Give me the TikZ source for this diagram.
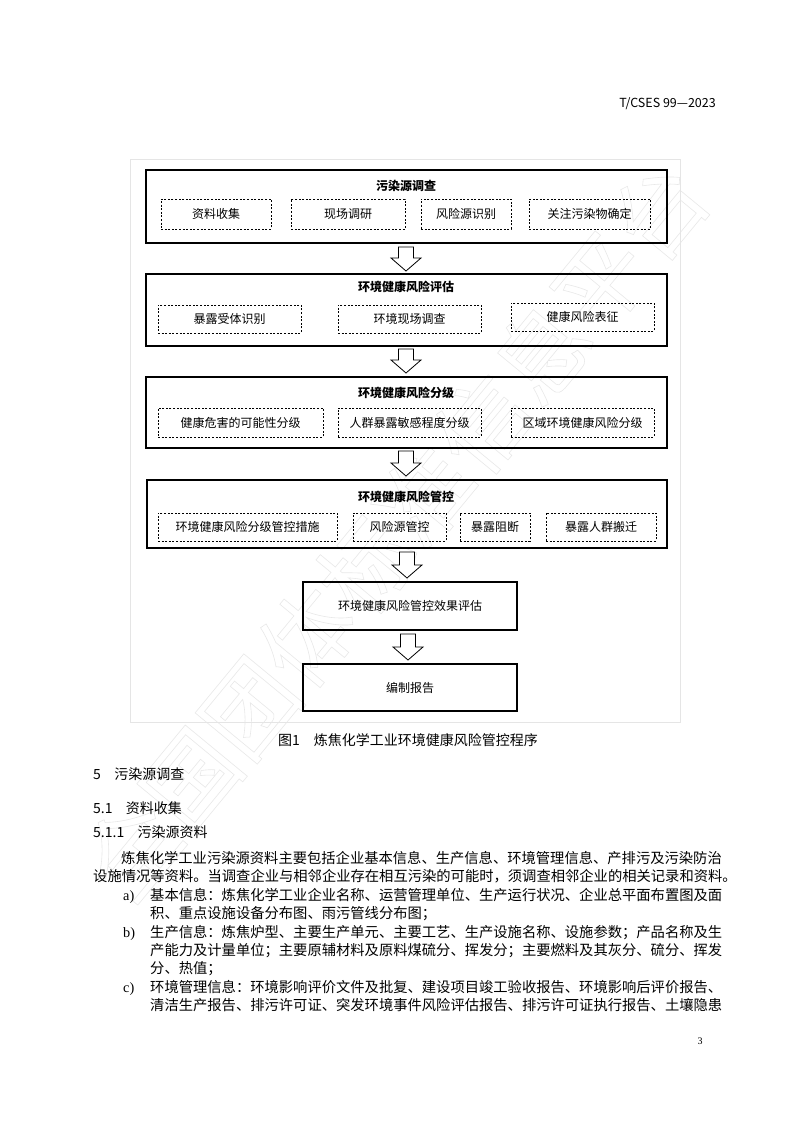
\documentclass[tikz,border=0pt]{standalone}
\usepackage{fontspec}
\setmainfont{Noto Sans CJK SC}
\newfontfamily\latinserif{Liberation Serif}
\usetikzlibrary{calc}
\tikzset{
  bigbox/.style={draw=black,line width=1.1pt,inner sep=0pt},
  dbox/.style={draw=black,line width=0.7pt,dash pattern=on 2pt off 1.6pt,inner sep=0pt,font=\fontsize{12}{14}\selectfont},
  boxtitle/.style={font=\fontsize{12}{14}\selectfont\bfseries,inner sep=0pt},
  plaintext/.style={anchor=base west,inner sep=0pt,font=\fontsize{14.3}{16}\selectfont},
  headtext/.style={anchor=base west,inner sep=0pt,font=\fontsize{14}{16}\selectfont},
  arrowline/.style={draw=black,line width=0.8pt,fill=white,line join=miter},
  pics/blockdown/.style={code={
    \draw[arrowline] (-7.5,0) -- (7.5,0) -- (7.5,#1-13) -- (15,#1-13) -- (0,#1)
      -- (-15,#1-13) -- (-7.5,#1-13) -- cycle;}}
}
\begin{document}
\begin{tikzpicture}[x=1pt,y=-1pt]
\useasboundingbox (0,0) rectangle (794,1123);
\fill[white] (0,0) rectangle (794,1123);

% watermark
\node[rotate=50.5,text=black!9,inner sep=0pt,font=\fontsize{92}{92}\selectfont] (wm) at (395,530)
  {\special{pdf:literal direct 1 Tr 0.6 w}全国团体标准信息平台\special{pdf:literal direct 0 Tr}};

% header
\node[anchor=base east,inner sep=0pt,font=\fontsize{12.5}{14}\selectfont] (hdr) at (716,108) {T/CSES 99—2023};

% figure frame
\node[draw=black!10,line width=1pt,minimum width=550pt,minimum height=562pt,inner sep=0pt] (frame) at (405.5,441) {};

% box 1
\node[bigbox,minimum width=521pt,minimum height=73pt] (b1) at (406.5,206.5) {};
\node[boxtitle] (t1) at (406,186) {污染源调查};
\node[dbox,minimum width=110pt,minimum height=30pt] (d11) at (216,214) {资料收集};
\node[dbox,minimum width=114pt,minimum height=30pt] (d12) at (348,214) {现场调研};
\node[dbox,minimum width=90pt,minimum height=30pt] (d13) at (466,214) {风险源识别};
\node[dbox,minimum width=121pt,minimum height=30pt] (d14) at (589.5,214) {关注污染物确定};

% box 2
\node[bigbox,minimum width=521pt,minimum height=72pt] (b2) at (406.5,310) {};
\node[boxtitle] (t2) at (406,287) {环境健康风险评估};
\node[dbox,minimum width=143pt,minimum height=28pt] (d21) at (229.5,319) {暴露受体识别};
\node[dbox,minimum width=143pt,minimum height=28pt] (d22) at (409.5,319) {环境现场调查};
\node[dbox,minimum width=143pt,minimum height=28pt] (d23) at (582.5,317) {健康风险表征};

% box 3
\node[bigbox,minimum width=521pt,minimum height=71pt] (b3) at (406.5,412.5) {};
\node[boxtitle] (t3) at (406,393) {环境健康风险分级};
\node[dbox,minimum width=165pt,minimum height=29pt] (d31) at (240.5,422.5) {健康危害的可能性分级};
\node[dbox,minimum width=143pt,minimum height=29pt] (d32) at (409.5,422.5) {人群暴露敏感程度分级};
\node[dbox,minimum width=143pt,minimum height=29pt] (d33) at (582.5,422.5) {区域环境健康风险分级};

% box 4
\node[bigbox,minimum width=520pt,minimum height=68pt] (b4) at (407,514) {};
\node[boxtitle] (t4) at (406,497) {环境健康风险管控};
\node[dbox,minimum width=179pt,minimum height=28pt] (d41) at (247.5,527) {环境健康风险分级管控措施};
\node[dbox,minimum width=93pt,minimum height=28pt] (d42) at (399.5,527) {风险源管控};
\node[dbox,minimum width=70pt,minimum height=28pt] (d43) at (495,527) {暴露阻断};
\node[dbox,minimum width=110pt,minimum height=28pt] (d44) at (601,527) {暴露人群搬迁};

% box 5, 6
\node[bigbox,minimum width=214pt,minimum height=48pt,font=\fontsize{12}{14}\selectfont] (b5) at (410,606) {环境健康风险管控效果评估};
\node[bigbox,minimum width=214pt,minimum height=47pt,font=\fontsize{12}{14}\selectfont] (b6) at (410,687.5) {编制报告};

% block arrows
\coordinate (a1) at (406,247);
\coordinate (a2) at (406,349);
\coordinate (a3) at (406,451);
\coordinate (a4) at (407,552);
\coordinate (a5) at (408,634);
\pic at (a1) {blockdown=24};
\pic at (a2) {blockdown=24};
\pic at (a3) {blockdown=25};
\pic at (a4) {blockdown=26};
\pic at (a5) {blockdown=26};

% caption
\node[anchor=base west,inner sep=0pt,font=\fontsize{14}{16}\selectfont] (cap) at (278,745) {图1\hspace{1em}炼焦化学工业环境健康风险管控程序};

% headings
\node[headtext] (h5) at (93,779) {5\hspace{0.95em}污染源调查};
\node[headtext] (h51) at (93,813) {5.1\hspace{0.95em}资料收集};
\node[headtext] (h511) at (93,837) {5.1.1\hspace{0.95em}污染源资料};

% paragraph
\node[plaintext] (p1) at (121,863) {炼焦化学工业污染源资料主要包括企业基本信息、生产信息、环境管理信息、产排污及污染防治};
\node[plaintext] (p2) at (93,881) {设施情况等资料。当调查企业与相邻企业存在相互污染的可能时，须调查相邻企业的相关记录和资料。};
\node[plaintext,font=\fontsize{14.3}{16}\latinserif] (la) at (123,900) {a)};
\node[plaintext] (p3) at (150,900) {基本信息：炼焦化学工业企业名称、运营管理单位、生产运行状况、企业总平面布置图及面};
\node[plaintext] (p4) at (150,918) {积、重点设施设备分布图、雨污管线分布图；};
\node[plaintext,font=\fontsize{14.3}{16}\latinserif] (lb) at (123,937) {b)};
\node[plaintext] (p5) at (150,937) {生产信息：炼焦炉型、主要生产单元、主要工艺、生产设施名称、设施参数；产品名称及生};
\node[plaintext] (p6) at (150,955) {产能力及计量单位；主要原辅材料及原料煤硫分、挥发分；主要燃料及其灰分、硫分、挥发};
\node[plaintext] (p7) at (150,973) {分、热值；};
\node[plaintext,font=\fontsize{14.3}{16}\latinserif] (lc) at (123,992) {c)};
\node[plaintext] (p8) at (150,992) {环境管理信息：环境影响评价文件及批复、建设项目竣工验收报告、环境影响后评价报告、};
\node[plaintext] (p9) at (150,1010) {清洁生产报告、排污许可证、突发环境事件风险评估报告、排污许可证执行报告、土壤隐患};

% page number
\node[anchor=base,inner sep=0pt,font=\fontsize{10}{12}\latinserif] (pg) at (700,1044) {3};
\end{tikzpicture}
\end{document}
